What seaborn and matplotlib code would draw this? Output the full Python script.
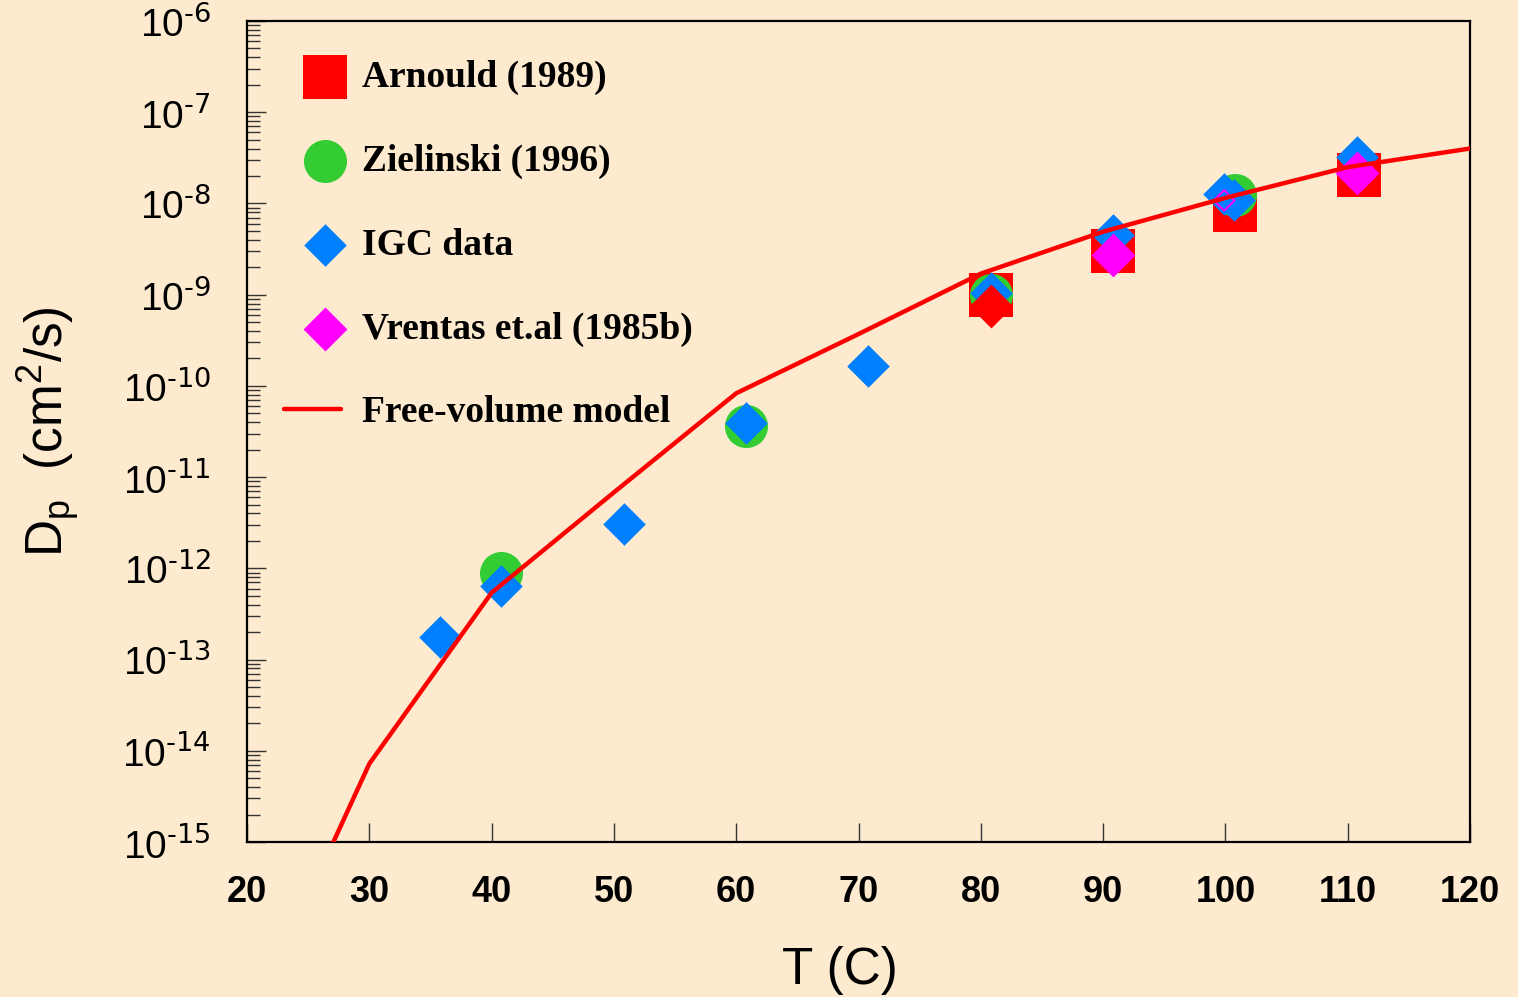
import math
import matplotlib
matplotlib.use("Agg")
import matplotlib.pyplot as plt
from matplotlib.ticker import FixedLocator, LogLocator, FuncFormatter, NullFormatter
from matplotlib.font_manager import FontProperties
from matplotlib.collections import PathCollection
from matplotlib.legend_handler import HandlerPathCollection
import seaborn as sns

# ---------------- data ----------------
arnould_T = [80.8, 90.8, 100.8, 110.9]
arnould_D = [9.9e-10, 3.0e-9, 8.4e-9, 2.07e-8]

zielinski_T = [40.8, 60.8, 80.8, 100.8]
zielinski_D = [8.9e-13, 3.6e-11, 1.0e-9, 1.24e-8]

igc_T = [35.8, 40.8, 50.8, 60.8, 70.8, 80.8, 90.8, 99.9, 100.7, 110.8]
igc_D = [1.75e-13, 6.4e-13, 3.1e-12, 3.9e-11, 1.67e-10, 1.05e-9, 4.5e-9, 1.27e-8, 1.08e-8, 3.26e-8]

extra_red_T = [80.8]
extra_red_D = [7.45e-10]

vrentas_T = [90.8, 110.8]
vrentas_D = [2.72e-9, 2.16e-8]

vrentas_small_T = [99.9]
vrentas_small_D = [1.08e-8]

model_T = [25, 30, 40, 50, 60, 70, 80, 90, 100, 110, 120]
model_D = [2.5e-16, 7.2e-15, 5.4e-13, 6.8e-12, 8.3e-11, 3.7e-10, 1.7e-9, 4.9e-9, 1.15e-8, 2.5e-8, 4.0e-8]

x_ticks = [20, 30, 40, 50, 60, 70, 80, 90, 100, 110, 120]
y_exponents = [-15, -14, -13, -12, -11, -10, -9, -8, -7, -6]

labels = ["Arnould (1989)", "Zielinski (1996)", "IGC data", "Vrentas et.al (1985b)", "Free-volume model"]

# ---------------- style ----------------
BG = "#FEEBCF"
sns.set_style("ticks")
plt.rcParams["font.family"] = ["Liberation Sans", "DejaVu Sans"]
plt.rcParams["mathtext.default"] = "regular"
for k in ["text.color", "axes.labelcolor", "xtick.color", "ytick.color", "xtick.labelcolor", "ytick.labelcolor"]:
    plt.rcParams[k] = "black"

fig = plt.figure(figsize=(15.18, 9.97), dpi=100, facecolor=BG)
ax = fig.add_axes([247 / 1518, 1 - 842 / 997, (1470 - 247) / 1518, (842 - 21) / 997])
ax.set_facecolor(BG)
ax.set_yscale("log")

sns.scatterplot(x=arnould_T, y=arnould_D, marker="s", s=961, color="#FF0000",
                linewidth=0, ax=ax, zorder=3)
sns.scatterplot(x=zielinski_T, y=zielinski_D, marker="o", s=961, color="#33CC33",
                linewidth=0, ax=ax, zorder=4)
sns.scatterplot(x=igc_T, y=igc_D, marker="D", s=470, color="#0080FF",
                linewidth=0, ax=ax, zorder=5)
sns.scatterplot(x=extra_red_T, y=extra_red_D, marker="D", s=500, color="#FF0000",
                linewidth=0, ax=ax, zorder=6)
sns.scatterplot(x=vrentas_T, y=vrentas_D, marker="D", s=500, color="#FF00FF",
                linewidth=0, ax=ax, zorder=7)
sns.scatterplot(x=vrentas_small_T, y=vrentas_small_D, marker="D", s=110,
                facecolor="none", edgecolor="#FF00FF", linewidth=1.5, ax=ax, zorder=7)
sns.lineplot(x=model_T, y=model_D, color="#FF0000", linewidth=3.2, ax=ax,
             zorder=8, estimator=None, sort=False)

colls = ax.collections
line = ax.lines[0]
handles = [colls[0], colls[1], colls[2], colls[4], line]

ax.set_xlim(20, 120)
ax.set_ylim(1e-15, 1e-6)

ax.xaxis.set_major_locator(FixedLocator(x_ticks))
ax.set_xticklabels([str(v) for v in x_ticks])
ax.yaxis.set_major_locator(FixedLocator([10.0 ** e for e in y_exponents]))
ax.yaxis.set_major_formatter(FuncFormatter(
    lambda v, p: r"$\mathregular{10^{\text{-%d}}}$" % abs(round(math.log10(v)))))
ax.yaxis.set_minor_locator(LogLocator(base=10, subs=[2, 3, 4, 5, 6, 7, 8, 9], numticks=20))
ax.yaxis.set_minor_formatter(NullFormatter())

ax.tick_params(axis="y", which="major", direction="in", length=14, width=1, color="#333333",
               labelsize=28, pad=26, left=True, right=False, labelcolor="black")
ax.tick_params(axis="y", which="minor", direction="in", length=9, width=1, color="#333333",
               left=True, right=False)
ax.tick_params(axis="x", which="major", direction="in", length=14, width=1, color="#333333",
               labelsize=26, pad=24, bottom=True, top=False, labelcolor="black")
for t in ax.get_xticklabels():
    t.set_fontweight("bold")

for sp in ax.spines.values():
    sp.set_visible(True)
    sp.set_linewidth(1.6)
    sp.set_color("black")

ax.set_xlabel("T (C)", fontsize=37, color="black")
ax.set_ylabel(r"D$_{\mathregular{p}}$  (cm$^{\mathregular{2}}$/s)", fontsize=37, color="black")
ax.xaxis.set_label_coords((840 - 247) / 1223, -0.127)
ax.yaxis.set_label_coords(-0.135, 0.5)

leg = ax.legend(handles, labels, loc="upper left",
                bbox_to_anchor=(284 / 1518, 1 - 60 / 997), bbox_transform=fig.transFigure,
                frameon=False, prop=FontProperties(family="Liberation Serif", weight="bold", size=27),
                labelspacing=1.3, handlelength=1.52, handletextpad=0.56, borderpad=0,
                borderaxespad=0, scatterpoints=1, labelcolor="black",
                handler_map={PathCollection: HandlerPathCollection(xpad=0.64)})
leg.set_zorder(10)

fig.savefig("out.png", dpi=100, facecolor=BG)
